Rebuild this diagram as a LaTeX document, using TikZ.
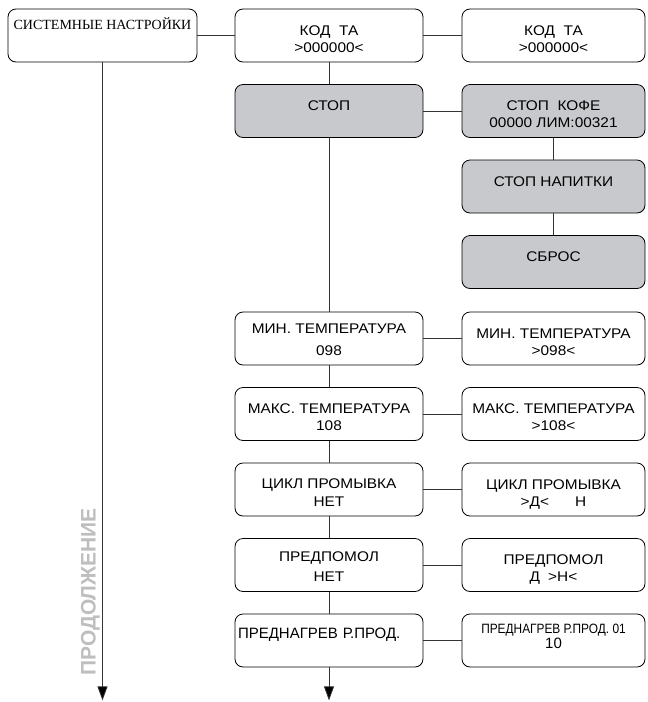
\documentclass[tikz,border=0pt]{standalone}
\usepackage{fontspec}
\setmainfont{Liberation Sans}[FakeStretch=1.1]
\newfontfamily\serfont{Liberation Serif}
\newfontfamily\plainfont{Liberation Sans}
\newfontfamily\narrowfont{Liberation Sans}[FakeStretch=0.88]
\usepackage{xcolor}
\usetikzlibrary{positioning,arrows.meta}
\definecolor{boxgray}{RGB}{200,201,205}
\definecolor{textgray}{RGB}{190,190,190}

\begin{document}
\begin{tikzpicture}[x=1pt,y=1pt,>={Triangle[length=14pt,width=10pt]},node distance=75.5pt,line width=0.8pt,
  box/.style={draw,rounded corners=8pt,minimum width=188pt,minimum height=53pt,align=center,text height=33pt,text depth=0pt,font=\fontsize{14}{17}\selectfont},
  valbox/.style={box,minimum width=183pt},
  stopbox/.style={box,fill=boxgray}]

  \useasboundingbox (0,0) rectangle (648,-702);

  \node[box,minimum width=189pt,text height=24pt,font=\serfont\fontsize{14}{18}\selectfont] (1) at (102.5,-35.5) {СИСТЕМНЫЕ НАСТРОЙКИ\\ \strut};

  \node[box] (2) [right of=1, xshift=151pt] {КОД\ \ ТА\\>000000<};
  \node[valbox] (3) [right of=2, xshift=149pt] {КОД\ \ ТА\\>000000<};

  \node[stopbox] (4) [below of=2] {СТОП\\ \strut};
  \node[stopbox,minimum width=183pt] (5) [right of=4, xshift=149pt] {СТОП\ \ КОФЕ\\00000 ЛИМ:00321};
  \node[stopbox,minimum width=183pt] (6) [below of=5] {СТОП НАПИТКИ\\ \strut};
  \node[stopbox,minimum width=183pt] (7) [below of=6] {СБРОС\\ \strut};

  \node[box] (8) [below of=4, yshift=-152pt] {МИН. ТЕМПЕРАТУРА\\[5pt]098};
  \node[valbox] (9) [right of=8, xshift=149pt] {МИН. ТЕМПЕРАТУРА\\>098<};

  \node[box] (10) [below of=8] {МАКС. ТЕМПЕРАТУРА\\108};
  \node[valbox] (11) [right of=10, xshift=149pt] {МАКС. ТЕМПЕРАТУРА\\>108<};

  \node[box] (12) [below of=10] {ЦИКЛ ПРОМЫВКА\\[1pt]НЕТ};
  \node[valbox] (13) [right of=12, xshift=149pt] {ЦИКЛ ПРОМЫВКА\\>Д<\hspace{26pt}Н};

  \node[box] (14) [below of=12] {ПРЕДПОМОЛ\\[3pt]НЕТ};
  \node[valbox] (15) [right of=14, xshift=149pt] {ПРЕДПОМОЛ\\Д\hspace{8pt}>Н<};

  \node[box,align=left,text width=182pt,inner sep=3pt,text height=10pt,text depth=15pt,font=\plainfont\fontsize{15}{17}\selectfont] (16) [below of=14] {ПРЕДНАГРЕВ Р.ПРОД.};
  \node[valbox,text height=15pt,font=\plainfont\fontsize{15}{13}\selectfont] (17) [right of=16, xshift=149pt] {{\narrowfont\fontsize{13.5}{13}\selectfont ПРЕДНАГРЕВ Р.ПРОД. 01}\\10};

  \node[rotate=90,text=textgray,font=\plainfont\bfseries\fontsize{21}{21}\selectfont] (18) at (90.5,-592) {ПРОДОЛЖЕНИЕ};

  \path (1.south) ++(0,-638) coordinate (a1);
  \path (16.south) ++(0,-33) coordinate (a2);

  \path[draw=black!80]
    (1) edge (2)
    (2) edge (3)
    (4) edge (5)
    (5) edge (6)
    (6) edge (7)
    (8) edge (9)
    (10) edge (11)
    (12) edge (13)
    (14) edge (15)
    (16) edge (17)

    (2) edge (4)
    (4) edge (8)
    (8) edge (10)
    (10) edge (12)
    (12) edge (14)
    (14) edge (16)
    (16) edge[->] (a2)
    (1) edge[->] (a1)
    ;
\end{tikzpicture}
\end{document}
